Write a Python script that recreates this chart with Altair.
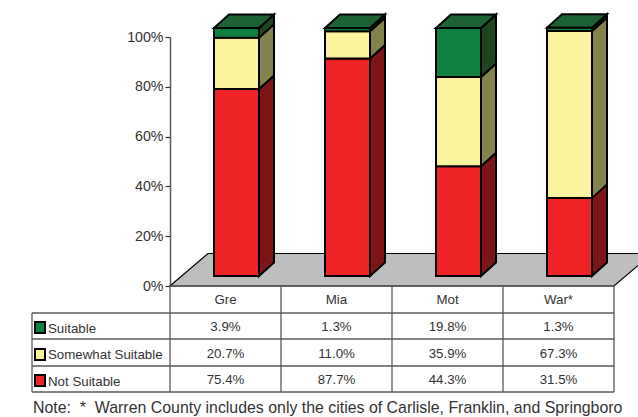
import altair as alt
import pandas as pd

# Values shown in the table, one list per suitability class
counties = ["Gre", "Mia", "Mot", "War*"]
suitable = [3.9, 1.3, 19.8, 1.3]
somewhat = [20.7, 11.0, 35.9, 67.3]
not_suitable = [75.4, 87.7, 44.3, 31.5]

classes = ["Not Suitable", "Somewhat Suitable", "Suitable"]
series = {"Not Suitable": not_suitable, "Somewhat Suitable": somewhat, "Suitable": suitable}
front = {"Not Suitable": "#EE2326", "Somewhat Suitable": "#FBF39D", "Suitable": "#108040"}
side = {"Not Suitable": "#7D1517", "Somewhat Suitable": "#83824D", "Suitable": "#1D451E"}
TOP = "#1C6233"
FLOOR = "#BEBEBE"
LINE = "#5A5A5A"
INK = "#333333"
FONT = "Liberation Sans"
TABLE_SIZE = 13.3

# One pixel expressed in scale units (111 px per county, 2.49 px per percent)
PX_X, PX_Y = 1 / 111, 1 / 2.49
BAR_LEFT, BAR_W = 44 * PX_X, 45 * PX_X
DEPTH_X, DEPTH_Y = 15 * PX_X, 13.5 * PX_Y
BASE = 10 * PX_Y
FLOOR_X, FLOOR_Y = 38 * PX_X, 32.5 * PX_Y


def tx(px):
    return (px - 170) * PX_X


def ty(px):
    return (286 - px) * PX_Y


fronts, sides, tops = [], [], []
for i, county in enumerate(counties):
    left = i + BAR_LEFT
    right = left + BAR_W
    level = BASE
    for name in classes:
        upper = level + series[name][i] * 0.996
        fronts.append(dict(x=left, x2=right, y=level, y2=upper, c=front[name]))
        key = f"{county}-{name}"
        sides.append(dict(k=key, x=right, y=level, y2=upper, c=side[name]))
        sides.append(dict(k=key, x=right + DEPTH_X, y=level + DEPTH_Y, y2=upper + DEPTH_Y, c=side[name]))
        level = upper
    for x, y, y2 in [
        (left, level, level),
        (left + DEPTH_X, level, level + DEPTH_Y),
        (right, level, level + DEPTH_Y),
        (right + DEPTH_X, level + DEPTH_Y, level + DEPTH_Y),
    ]:
        tops.append(dict(k=county, x=x, y=y, y2=y2))

floor = [
    dict(x=0, y=0, y2=0),
    dict(x=FLOOR_X, y=0, y2=FLOOR_Y),
    dict(x=4, y=0, y2=FLOOR_Y),
    dict(x=4 + FLOOR_X, y=FLOOR_Y, y2=FLOOR_Y),
]

X = alt.X("x:Q", axis=None, scale=alt.Scale(domain=[0, 4], nice=False, zero=False))
Y_AXIS = alt.Axis(
    values=[0, 20, 40, 60, 80, 100], labelExpr="datum.value + '%'", title=None, grid=False,
    domainColor=LINE, domainWidth=1.5, tickColor=INK, tickSize=5, tickWidth=1.2,
    labelFont=FONT, labelFontSize=14.2, labelColor=INK, labelPadding=2,
)
Y = alt.Y("y:Q", axis=Y_AXIS, scale=alt.Scale(domain=[0, 100], nice=False, zero=False))

floor_layer = alt.Chart(pd.DataFrame(floor)).mark_area(
    color=FLOOR, stroke="black", strokeWidth=1.2
).encode(x=X, y=Y, y2="y2:Q")

side_layer = alt.Chart(pd.DataFrame(sides)).mark_area(stroke="black", strokeWidth=2).encode(
    x=X, y=Y, y2="y2:Q", detail="k:N", fill=alt.Fill("c:N", scale=None)
)
top_layer = alt.Chart(pd.DataFrame(tops)).mark_area(color=TOP, stroke="black", strokeWidth=2).encode(
    x=X, y=Y, y2="y2:Q", detail="k:N"
)
front_layer = alt.Chart(pd.DataFrame(fronts)).mark_rect(stroke="black", strokeWidth=2).encode(
    x=X, x2="x2:Q", y=Y, y2="y2:Q", fill=alt.Fill("c:N", scale=None)
)

# Data table under the plot
row_lines = [313, 339, 366, 392]
col_lines = [170, 281, 392, 503, 614]
rules = [dict(x=tx(170), x2=tx(614), y=ty(286), y2=ty(286))]
rules += [dict(x=tx(32), x2=tx(614), y=ty(r), y2=ty(r)) for r in row_lines]
rules += [dict(x=tx(c), x2=tx(c), y=ty(286), y2=ty(392)) for c in col_lines]
rules.append(dict(x=tx(32), x2=tx(32), y=ty(313), y2=ty(392)))
rule_layer = alt.Chart(pd.DataFrame(rules)).mark_rule(color=LINE, strokeWidth=1.3).encode(
    x=X, x2="x2:Q", y=Y, y2="y2:Q"
)

cells = [dict(x=i + 0.5, y=ty(300), t=c) for i, c in enumerate(counties)]
for name, cy in zip(["Suitable", "Somewhat Suitable", "Not Suitable"], [327, 354, 380]):
    for i, v in enumerate(series[name]):
        cells.append(dict(x=i + 0.5, y=ty(cy), t=f"{v:.1f}%"))
cell_layer = alt.Chart(pd.DataFrame(cells)).mark_text(
    font=FONT, fontSize=TABLE_SIZE, color=INK, align="center", baseline="middle"
).encode(x=X, y=Y, text="t:N")

names = [
    dict(x=tx(48), y=ty(329), t="Suitable"),
    dict(x=tx(48), y=ty(355), t="Somewhat Suitable"),
    dict(x=tx(48), y=ty(382), t="Not Suitable"),
]
name_layer = alt.Chart(pd.DataFrame(names)).mark_text(
    font=FONT, fontSize=TABLE_SIZE, color=INK, align="left", baseline="middle"
).encode(x=X, y=Y, text="t:N")

swatches = [
    dict(x=tx(35), x2=tx(45), y=ty(333), y2=ty(322), c=front["Suitable"]),
    dict(x=tx(35), x2=tx(45), y=ty(360), y2=ty(349), c=front["Somewhat Suitable"]),
    dict(x=tx(35), x2=tx(45), y=ty(386), y2=ty(375), c=front["Not Suitable"]),
]
swatch_layer = alt.Chart(pd.DataFrame(swatches)).mark_rect(stroke="black", strokeWidth=2).encode(
    x=X, x2="x2:Q", y=Y, y2="y2:Q", fill=alt.Fill("c:N", scale=None)
)

note = alt.Chart(pd.DataFrame([dict(
    x=tx(33), y=ty(408),
    t="Note:\u00a0\u00a0*\u00a0\u00a0Warren County includes only the cities of Carlisle, Franklin, and Springboro",
)])).mark_text(
    font=FONT, fontSize=15.9, color=INK, align="left", baseline="middle"
).encode(x=X, y=Y, text="t:N")

chart = alt.layer(
    floor_layer, side_layer, top_layer, front_layer,
    rule_layer, cell_layer, name_layer, swatch_layer, note,
).properties(
    width=444, height=249,
    autosize=alt.AutoSizeParams(type="none"),
    padding={"left": 170, "top": 37, "right": 24, "bottom": 131},
).configure_view(stroke=None)

chart.save("out.html", embed_options={"renderer": "svg", "actions": False})
